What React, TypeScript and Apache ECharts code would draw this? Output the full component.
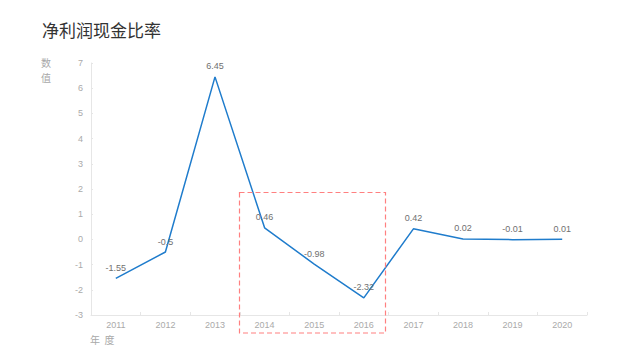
import React, { useEffect, useRef } from "react";
import * as echarts from "echarts";

const years = ["2011", "2012", "2013", "2014", "2015", "2016", "2017", "2018", "2019", "2020"];
const ratios = [-1.55, -0.5, 6.45, 0.46, -0.98, -2.32, 0.42, 0.02, -0.01, 0.01];
const yMin = -3;
const yMax = 7;

export default function App() {
  const ref = useRef<HTMLDivElement>(null);
  useEffect(() => {
    const chart = echarts.init(ref.current!, null, { renderer: "svg" });
    chart.setOption({
      animation: false,
      backgroundColor: "#ffffff",
      title: {
        text: "净利润现金比率",
        left: 37,
        top: 16,
        textStyle: { fontSize: 17, fontWeight: "normal", color: "#333", fontFamily: "Noto Sans CJK SC" },
      },
      grid: { left: 91, right: 53, top: 63, bottom: 45 },
      xAxis: {
        type: "category",
        data: years,
        boundaryGap: true,
        axisLine: { onZero: false, lineStyle: { color: "#e6e6e6" } },
        axisTick: { show: true, inside: true, length: 3, lineStyle: { color: "#e6e6e6" } },
        axisLabel: { color: "#aaa", fontSize: 9, margin: 5, fontFamily: "Liberation Sans" },
      },
      yAxis: {
        type: "value",
        min: yMin,
        max: yMax,
        interval: 1,
        splitLine: { show: false },
        axisLine: { show: true, lineStyle: { color: "#e6e6e6" } },
        axisTick: { show: true, inside: true, length: 2, lineStyle: { color: "#e6e6e6" } },
        axisLabel: { color: "#aaa", fontSize: 9, margin: 8, fontFamily: "Liberation Sans" },
      },
      graphic: [
        {
          type: "text",
          left: 41,
          top: 57,
          style: { text: "数", fill: "#a8a8a8", fontSize: 10, fontFamily: "Noto Sans CJK SC" },
        },
        {
          type: "text",
          left: 41,
          top: 72,
          style: { text: "值", fill: "#a8a8a8", fontSize: 10, fontFamily: "Noto Sans CJK SC" },
        },
        {
          type: "text",
          left: 90,
          top: 334,
          style: { text: "年  度", fill: "#a8a8a8", fontSize: 10, fontFamily: "Noto Sans CJK SC" },
        },
        {
          type: "rect",
          shape: { x: 239.5, y: 192.5, width: 146, height: 140.5 },
          style: { fill: "none", stroke: "#ff8080", lineWidth: 1.2, lineDash: [5, 3] },
          z: 10,
        },
      ],
      series: [
        {
          type: "line",
          data: ratios,
          showSymbol: true,
          symbol: "circle",
          symbolSize: 0,
          lineStyle: { color: "#1f7ccc", width: 1.5 },
          itemStyle: { color: "#1f7ccc" },
          label: {
            show: true,
            position: "top",
            distance: 6,
            color: "#707070",
            fontSize: 9,
            fontFamily: "Liberation Sans",
          },
        },
      ],
    });
    return () => chart.dispose();
  }, []);
  return <div ref={ref} style={{ width: 640, height: 360, position: "absolute", left: 0, top: 0 }} />;
}
